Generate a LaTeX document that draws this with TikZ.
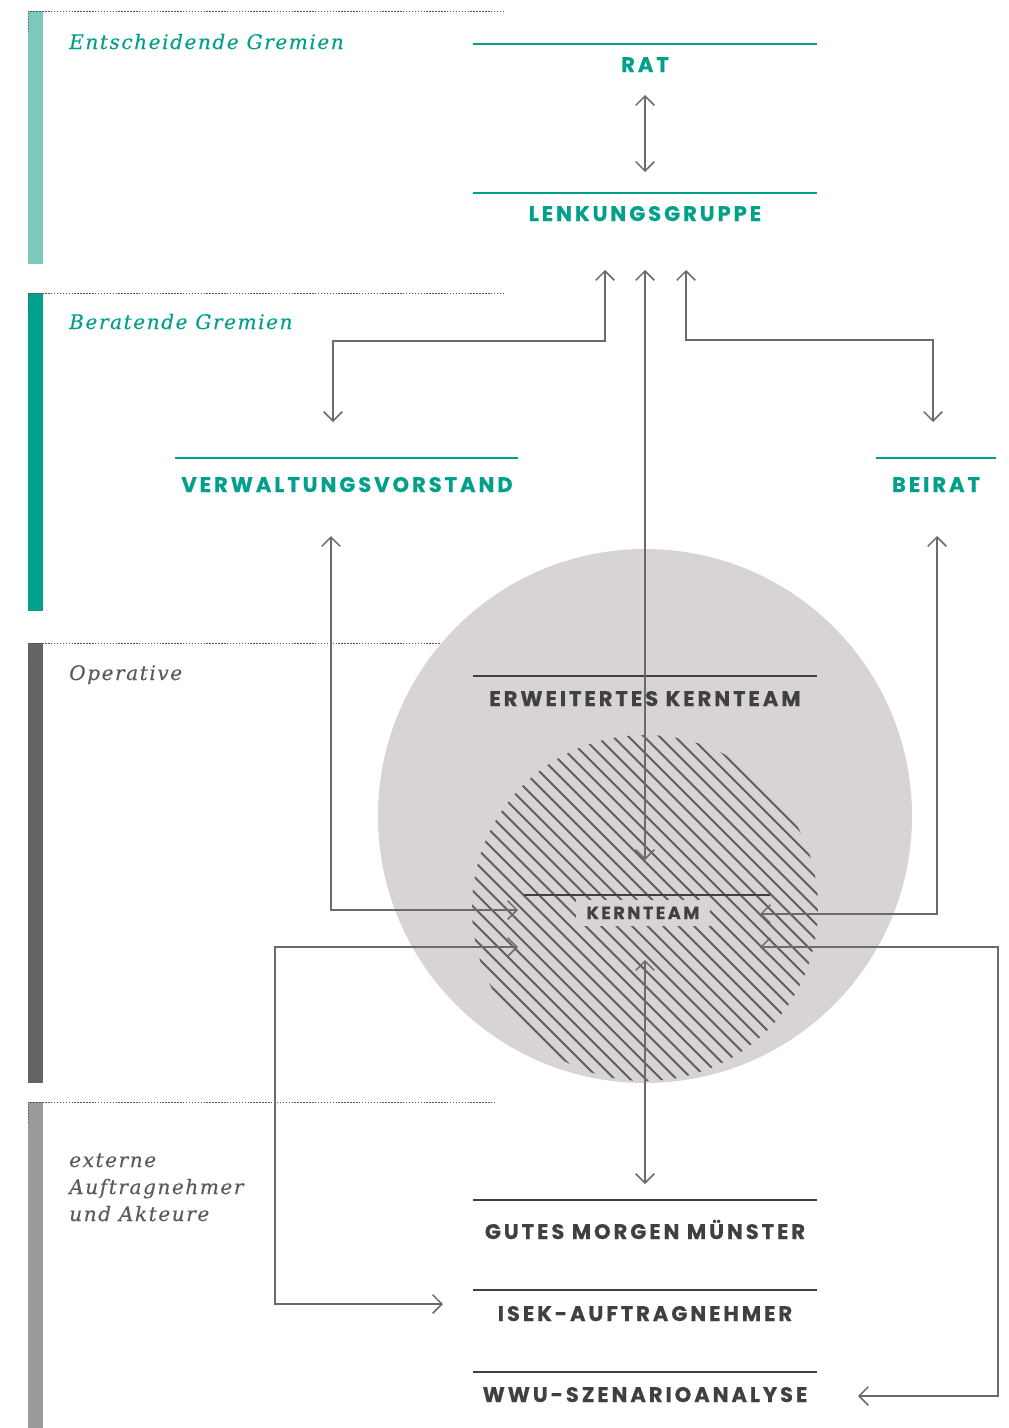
\documentclass[tikz,border=0pt]{standalone}
\usepackage{fontspec}
\usetikzlibrary{arrows.meta}
\newfontfamily\headfont[LetterSpace=14, BoldFeatures={FakeBold=0.5}]{Poppins}
\newfontfamily\labfont[LetterSpace=8, ItalicFeatures={FakeBold=0.3}]{DejaVu Serif}
\definecolor{tealA}{HTML}{00A08A}
\definecolor{tealL}{HTML}{7BC8BC}
\definecolor{barD}{HTML}{646464}
\definecolor{barL}{HTML}{9B9999}
\definecolor{circ}{HTML}{D8D4D3}
\definecolor{hatchc}{HTML}{5E5E5E}
\definecolor{arr}{HTML}{6B6B6B}
\definecolor{dtext}{HTML}{404040}
\definecolor{ltext}{HTML}{5A5A5A}
\definecolor{dotc}{HTML}{555555}
\begin{document}
\begin{tikzpicture}[x=0.75pt,y=-0.75pt,
  tip/.tip={Straight Barb[length=7pt,width=14pt,line width=1.1pt]},
  conn/.style={draw=arr, line width=1.1pt, tip-tip},
  head/.style={font=\headfont\bfseries\fontsize{15.8}{18}\selectfont, text=tealA, anchor=base, inner sep=0pt},
  headd/.style={head, text=dtext},
  sect/.style={font=\labfont\itshape\fontsize{15}{20}\selectfont, anchor=base west, inner sep=0pt, align=left},
  rulet/.style={draw=tealA, line width=1.6pt},
  ruled/.style={draw=dtext, line width=1.6pt},
  dotl/.style={draw=dotc, line width=0.7pt, dash pattern=on 1.1pt off 1.1pt},
]
\useasboundingbox (0,0) rectangle (1009,1428);
\fill[white] (0,0) rectangle (1009,1428);

% left bars
\fill[tealL] (28,11) rectangle (43,264);
\fill[tealA] (28,293) rectangle (43,611);
\fill[barD] (28,643) rectangle (43,1083);
\fill[barL] (28,1102) rectangle (43,1428);
% dotted lines
\draw[dotl] (28,32) -- (28,11) -- (505,11);
\draw[dotl] (28,314) -- (28,293) -- (505,293);
\draw[dotl] (28,664) -- (28,643) -- (496,643);
\draw[dotl] (28,1123) -- (28,1102) -- (496,1102);

% section labels
\node[sect, text=tealA] (s1) at (69,49) {Entscheidende Gremien};
\node[sect, text=tealA] (s2) at (69,329) {Beratende Gremien};
\node[sect, text=ltext] (s3) at (69,680) {Operative};
\node[sect, text=ltext] (s4a) at (69,1167) {externe};
\node[sect, text=ltext] (s4b) at (69,1194) {Auftragnehmer};
\node[sect, text=ltext] (s4c) at (69,1221) {und Akteure};

% circles
\fill[circ] (645,816) circle[radius=200.25pt];
\begin{scope}
  \clip (645,908) circle[radius=129.75pt];
  \foreach \i in {-30,...,30} {
    \draw[hatchc, line width=1.4pt] (645+\i*15.5-300,908-300) -- (645+\i*15.5+300,908+300);
  }
\end{scope}

% rules
\draw[rulet] (473,44) -- (817,44);
\draw[rulet] (473,193) -- (817,193);
\draw[rulet] (175,458) -- (518,458);
\draw[rulet] (876,458) -- (996,458);
\draw[ruled] (473,676) -- (817,676);
\draw[ruled] (524,895) -- (770,895);
\draw[ruled] (473,1200) -- (817,1200);
\draw[ruled] (473,1290) -- (817,1290);
\draw[ruled] (473,1372) -- (817,1372);

% headings
\node[head] (rat) at (645,72) {RAT};
\node[head] (lenk) at (645,221) {LENKUNGSGRUPPE};
\node[head] (vv) at (347,492) {VERWALTUNGSVORSTAND};
\node[head] (bei) at (936,492) {BEIRAT};
\node[headd] (ekt) at (645,706) {ERWEITERTES KERNTEAM};
\node[headd, font=\headfont\bfseries\fontsize{13.2}{15}\selectfont, fill=circ, inner xsep=8pt, inner ysep=5pt] (kt) at (643,919) {KERNTEAM};
\node[headd] (gmm) at (645,1239) {GUTES MORGEN MÜNSTER};
\node[headd] (isek) at (645,1321) {ISEK-AUFTRAGNEHMER};
\node[headd] (wwu) at (645,1402) {WWU-SZENARIOANALYSE};

% connector end points
\coordinate (ratS) at (645,95);
\coordinate (lenkN) at (645,172);
\coordinate (lenkA) at (605,270);
\coordinate (lenkC) at (645,270);
\coordinate (lenkB) at (686,270);
\coordinate (vvN) at (333,422);
\coordinate (beiN) at (933,422);
\coordinate (vvS) at (331,536);
\coordinate (beiS) at (937,536);
\coordinate (ktN) at (645,860);
\coordinate (ktW1) at (518,910);
\coordinate (ktW2) at (518,947);
\coordinate (ktE1) at (760,914);
\coordinate (ktE2) at (760,947);
\coordinate (ktS) at (645,960);
\coordinate (gmmN) at (645,1184);
\coordinate (isekW) at (443,1304);
\coordinate (wwuE) at (858,1396);

% connectors
\draw[conn] (ratS) -- (lenkN);
\draw[conn] (vvN) -- ++(0,-81) -| (lenkA);
\draw[conn] (lenkC) -- (ktN);
\draw[conn] (beiN) -- ++(0,-82) -| (lenkB);
\draw[conn] (vvS) |- (ktW1);
\draw[conn] (beiS) |- (ktE1);
\draw[conn] (ktW2) -- ++(-243,0) |- (isekW);
\draw[conn] (ktE2) -- ++(238,0) |- (wwuE);
\draw[conn] (ktS) -- (gmmN);
\end{tikzpicture}
\end{document}
